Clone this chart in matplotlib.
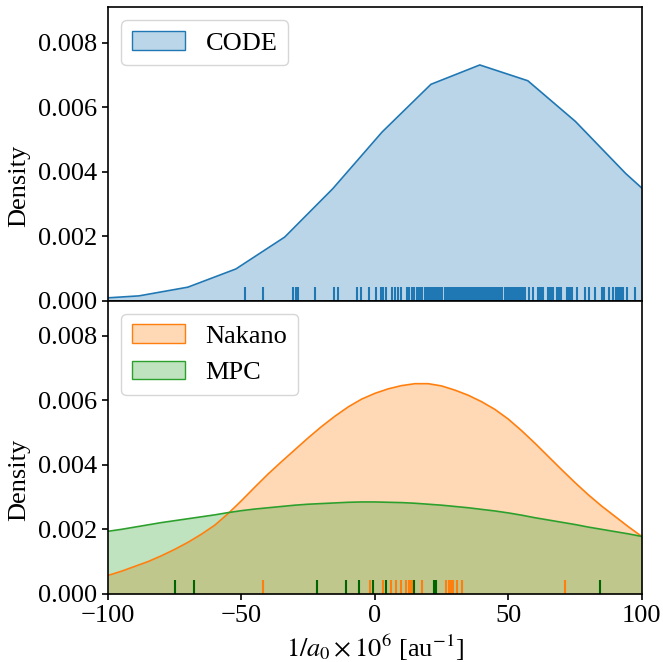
import matplotlib
matplotlib.use("Agg")
import matplotlib.pyplot as plt
from matplotlib.patches import Patch

# CODE density curve (coarse KDE grid)
code_x = [-106.6, -88.4, -70.1, -52.1, -33.8, -15.8, 2.7, 21.0, 39.3, 57.3, 75.1, 94.0, 112.2]
code_y = [0.00005, 0.000145, 0.000415, 0.00098, 0.00197, 0.00347, 0.00523,
          0.00671, 0.00731, 0.00682, 0.00556, 0.00394, 0.00258]

# CODE rug values
code_rug = [-48.6, -41.8, -30.6, -29.6, -28.8, -22.4, -15.5, -14.0, -6.6, -5.4,
            -2.1, 0.4, 2.1, 3.1, 4.3, 6.3, 7.5, 8.7, 9.6, 12.1, 12.9, 13.8, 14.6,
            15.8, 16.6, 17.0, 17.6, 18.8, 19.4, 20.0, 20.6, 21.2, 21.8, 22.4, 23.0,
            23.6, 24.2, 24.8, 25.3, 26.3, 26.9, 27.5, 28.1, 28.7, 29.3, 29.9, 30.5,
            31.1, 31.7, 32.3, 32.9, 33.5, 34.1, 34.7, 35.3, 35.9, 36.5, 37.1, 37.7,
            38.3, 38.9, 39.5, 40.1, 40.7, 41.3, 41.9, 42.5, 43.1, 43.7, 44.3, 44.9,
            45.5, 46.1, 46.7, 47.3, 47.6, 48.7, 49.3, 49.9, 50.5, 51.1, 51.7, 52.3,
            52.9, 53.5, 54.1, 54.7, 55.3, 55.9, 56.3, 57.7, 59.2, 61.0, 61.6, 62.2,
            62.8, 64.8, 65.5, 66.2, 66.9, 68.2, 69.0, 69.7, 71.8, 72.5, 73.2, 73.8,
            75.8, 78.7, 80.1, 82.4, 85.0, 85.7, 87.9, 89.4, 90.5, 91.1, 91.7, 92.3,
            93.0, 94.3, 97.4]

# Nakano and MPC density curves, read every 5 units
bot_x = [-100, -95, -90, -85, -80, -75, -70, -65, -60, -55, -50, -45, -40, -35,
         -30, -25, -20, -15, -10, -5, 0, 5, 10, 15, 20, 25, 30, 35, 40, 45, 50,
         55, 60, 65, 70, 75, 80, 85, 90, 95, 100]
nakano_y = [0.00057, 0.00070, 0.00085, 0.00100, 0.00118, 0.00138, 0.00160, 0.00185,
            0.00213, 0.00249, 0.00289, 0.00331, 0.00372, 0.00410, 0.00447, 0.00484,
            0.00519, 0.00551, 0.00580, 0.00604, 0.00622, 0.00636, 0.00646, 0.00652,
            0.00652, 0.00645, 0.00632, 0.00616, 0.00596, 0.00572, 0.00542, 0.00506,
            0.00467, 0.00426, 0.00385, 0.00345, 0.00307, 0.00272, 0.00240, 0.00208,
            0.00178]
mpc_y = [0.00194, 0.00200, 0.00207, 0.00214, 0.00221, 0.00227, 0.00233, 0.00239,
         0.00245, 0.00252, 0.00258, 0.00263, 0.00267, 0.00271, 0.00275, 0.00278,
         0.00280, 0.00282, 0.00284, 0.00285, 0.00285, 0.00284, 0.00283, 0.00281,
         0.00278, 0.00275, 0.00271, 0.00267, 0.00262, 0.00257, 0.00251, 0.00244,
         0.00236, 0.00229, 0.00222, 0.00215, 0.00207, 0.00200, 0.00193, 0.00186,
         0.00178]

nakano_rug = [-41.9, -2.0, 3.1, 5.9, 7.9, 9.9, 11.8, 12.8, 13.4, 14.0, 17.8,
              26.7, 27.8, 28.4, 29.2, 30.8, 32.6, 71.2]
mpc_rug = [-74.9, -67.8, -21.7, -10.9, -5.9, -0.9, 4.1, 14.8, 22.2, 22.9, 84.3]

plt.rcParams['font.family'] = ['Liberation Serif', 'DejaVu Serif']
plt.rcParams['mathtext.fontset'] = 'stix'
plt.rcParams['font.size'] = 19
plt.rcParams['axes.linewidth'] = 1.2

blue, orange, green = '#1f77b4', '#ff7f0e', '#2ca02c'

fig, (ax1, ax2) = plt.subplots(2, 1, figsize=(6.63, 6.62), dpi=100, sharex=True)
fig.subplots_adjust(left=0.163, right=0.968, top=0.989, bottom=0.103, hspace=0)

ax1.fill_between(code_x, code_y, color=blue, alpha=0.3, lw=0)
ax1.plot(code_x, code_y, color=blue, lw=1.2)
ax1.vlines(code_rug, 0, 0.046, color=blue, lw=1.5, transform=ax1.get_xaxis_transform())
ax1.legend(handles=[Patch(facecolor=(0.12, 0.47, 0.71, 0.3), edgecolor=blue, label='CODE')],
           loc='upper left')

ax2.fill_between(bot_x, nakano_y, color=orange, alpha=0.3, lw=0)
ax2.plot(bot_x, nakano_y, color=orange, lw=1.2)
ax2.fill_between(bot_x, mpc_y, color=green, alpha=0.3, lw=0)
ax2.plot(bot_x, mpc_y, color=green, lw=1.2)
ax2.vlines(nakano_rug, 0, 0.046, color=orange, lw=1.5, transform=ax2.get_xaxis_transform())
ax2.vlines(mpc_rug, 0, 0.046, color='darkgreen', lw=1.5, transform=ax2.get_xaxis_transform())
ax2.legend(handles=[Patch(facecolor=(1.0, 0.5, 0.05, 0.3), edgecolor=orange, label='Nakano'),
                    Patch(facecolor=(0.17, 0.63, 0.17, 0.3), edgecolor=green, label='MPC')],
           loc='upper left')

for ax in (ax1, ax2):
    ax.set_xlim(-100, 100)
    ax.set_ylim(0, 0.0091)
    ax.set_yticks([0, 0.002, 0.004, 0.006, 0.008])
    ax.set_ylabel('Density')
    ax.yaxis.set_label_coords(-0.145, 0.39)
    ax.tick_params(direction='out', length=4.5, width=1.2)

ax1.tick_params(axis='x', bottom=False)
ax2.set_xticks([-100, -50, 0, 50, 100])
ax2.set_xlabel(r'$1/a_0 \times 10^6$ [au$^{-1}$]')

fig.savefig('out.png', dpi=100)
